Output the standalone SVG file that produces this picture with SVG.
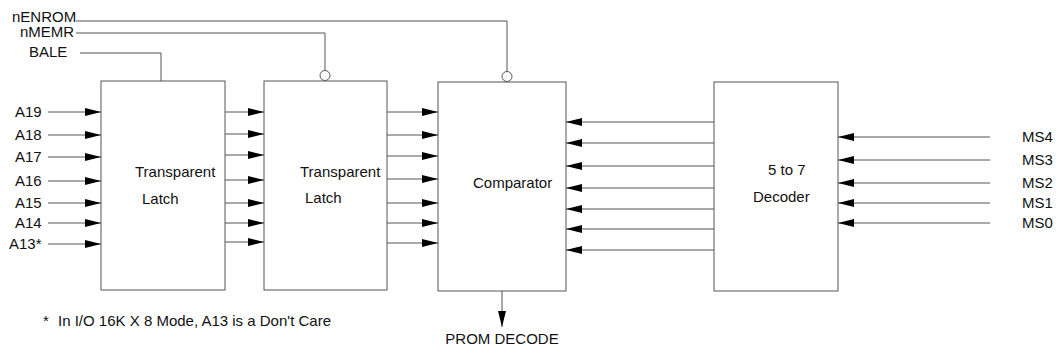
<svg xmlns="http://www.w3.org/2000/svg" width="1061" height="354" viewBox="0 0 1061 354">
  <style>
    text { font-family: "Liberation Sans", Arial, sans-serif; font-size: 15px; fill: #111; }
    .box { fill: #fff; stroke: #555; stroke-width: 1; }
    .wire { fill: none; stroke: #555; stroke-width: 1; }
    .arr { fill: none; stroke: #555; stroke-width: 1; marker-end: url(#head); }
    .bubble { fill: #fff; stroke: #555; stroke-width: 1; }
  </style>
  <defs>
    <marker id="head" markerUnits="userSpaceOnUse" markerWidth="17" markerHeight="9" refX="16" refY="4" orient="auto">
      <path d="M0,0 L16,4 L0,8 z" fill="#000"/>
    </marker>
  </defs>

  <rect width="1061" height="354" fill="#fff"/>

  <!-- blocks -->
  <g id="latch1">
    <rect class="box" x="101" y="81" width="124" height="209"/>
    <text x="135" y="177">Transparent</text>
    <text x="142" y="204">Latch</text>
  </g>
  <g id="latch2">
    <rect class="box" x="264" y="81" width="123" height="209"/>
    <text x="300" y="177">Transparent</text>
    <text x="305" y="203">Latch</text>
  </g>
  <g id="comparator">
    <rect class="box" x="438" y="82" width="128" height="209"/>
    <text x="473" y="188">Comparator</text>
  </g>
  <g id="decoder">
    <rect class="box" x="714" y="82" width="124" height="209"/>
    <text x="768" y="175">5 to 7</text>
    <text x="753" y="202">Decoder</text>
  </g>

  <!-- signal labels -->
  <g id="labels">
    <text x="12" y="22">nENROM</text>
    <text x="20" y="37">nMEMR</text>
    <text x="29" y="57">BALE</text>
    <text x="15" y="117">A19</text>
    <text x="15" y="140">A18</text>
    <text x="15" y="162">A17</text>
    <text x="15" y="186">A16</text>
    <text x="15" y="208">A15</text>
    <text x="15" y="228">A14</text>
    <text x="9" y="249">A13*</text>
    <text x="1022" y="142">MS4</text>
    <text x="1022" y="165">MS3</text>
    <text x="1022" y="188">MS2</text>
    <text x="1022" y="208">MS1</text>
    <text x="1022" y="228">MS0</text>
    <text x="502" y="344" text-anchor="middle">PROM DECODE</text>
    <text x="43" y="326">*<tspan x="58">In I/O 16K X 8 Mode, A13 is a Don't Care</tspan></text>
  </g>

  <!-- connectors -->
  <g id="connectors">
    <!-- control lines -->
    <polyline class="wire" points="76,21 507,21 507,71"/>
    <circle class="bubble" cx="507" cy="76.5" r="5"/>
    <polyline class="wire" points="76,33 325,33 325,70"/>
    <circle class="bubble" cx="325" cy="75.5" r="5"/>
    <polyline class="wire" points="80,53 161,53 161,81"/>

    <!-- address inputs -->
    <line class="arr" x1="48" y1="112" x2="101" y2="112"/>
    <line class="arr" x1="48" y1="135" x2="101" y2="135"/>
    <line class="arr" x1="48" y1="157" x2="101" y2="157"/>
    <line class="arr" x1="48" y1="181" x2="101" y2="181"/>
    <line class="arr" x1="48" y1="203" x2="101" y2="203"/>
    <line class="arr" x1="48" y1="223" x2="101" y2="223"/>
    <line class="arr" x1="48" y1="244" x2="101" y2="244"/>

    <!-- latch 1 to latch 2 -->
    <line class="arr" x1="225" y1="112" x2="264" y2="112"/>
    <line class="arr" x1="225" y1="134" x2="264" y2="134"/>
    <line class="arr" x1="225" y1="155" x2="264" y2="155"/>
    <line class="arr" x1="225" y1="180" x2="264" y2="180"/>
    <line class="arr" x1="225" y1="203" x2="264" y2="203"/>
    <line class="arr" x1="225" y1="223" x2="264" y2="223"/>
    <line class="arr" x1="225" y1="242" x2="264" y2="242"/>

    <!-- latch 2 to comparator -->
    <line class="arr" x1="387" y1="112" x2="438" y2="112"/>
    <line class="arr" x1="387" y1="135" x2="438" y2="135"/>
    <line class="arr" x1="387" y1="156" x2="438" y2="156"/>
    <line class="arr" x1="387" y1="179" x2="438" y2="179"/>
    <line class="arr" x1="387" y1="203" x2="438" y2="203"/>
    <line class="arr" x1="387" y1="223" x2="438" y2="223"/>
    <line class="arr" x1="387" y1="243" x2="438" y2="243"/>

    <!-- decoder to comparator -->
    <line class="arr" x1="714" y1="122" x2="566" y2="122"/>
    <line class="arr" x1="714" y1="143" x2="566" y2="143"/>
    <line class="arr" x1="714" y1="166" x2="566" y2="166"/>
    <line class="arr" x1="714" y1="188" x2="566" y2="188"/>
    <line class="arr" x1="714" y1="209" x2="566" y2="209"/>
    <line class="arr" x1="714" y1="229" x2="566" y2="229"/>
    <line class="arr" x1="714" y1="250" x2="566" y2="250"/>

    <!-- MS inputs -->
    <line class="arr" x1="990" y1="137" x2="838" y2="137"/>
    <line class="arr" x1="990" y1="160" x2="838" y2="160"/>
    <line class="arr" x1="990" y1="183" x2="838" y2="183"/>
    <line class="arr" x1="990" y1="203" x2="838" y2="203"/>
    <line class="arr" x1="990" y1="223" x2="838" y2="223"/>

    <!-- comparator output -->
    <line class="arr" x1="502" y1="291" x2="502" y2="327"/>
  </g>
</svg>
